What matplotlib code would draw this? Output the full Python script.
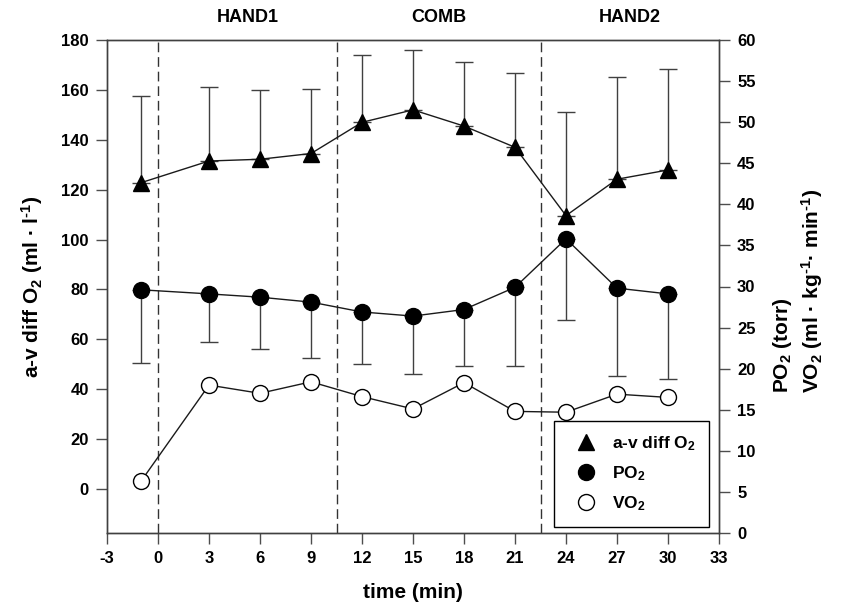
import matplotlib
matplotlib.use("Agg")
import matplotlib.pyplot as plt
from matplotlib.lines import Line2D

plt.rcParams['font.family'] = ['Liberation Sans', 'DejaVu Sans']
plt.rcParams['font.weight'] = 'bold'
plt.rcParams['mathtext.fontset'] = 'custom'
plt.rcParams['mathtext.rm'] = 'Liberation Sans:bold'
plt.rcParams['mathtext.default'] = 'rm'

time = [-1, 3, 6, 9, 12, 15, 18, 21, 24, 27, 30]
avdiff = [122.8, 131.5, 132.2, 134.5, 147.0, 152.0, 145.5, 137.0, 109.6, 124.2, 127.9]
avdiff_err = [34.8, 29.5, 27.6, 25.7, 27.0, 24.1, 25.8, 29.7, 41.7, 40.8, 40.5]
po2 = [29.6, 29.1, 28.7, 28.1, 26.9, 26.4, 27.2, 29.9, 35.8, 29.8, 29.1]
po2_err = [8.9, 5.9, 6.3, 6.8, 6.3, 7.1, 6.9, 9.6, 9.9, 10.7, 10.3]
vo2 = [6.3, 18.0, 17.0, 18.4, 16.6, 15.1, 18.3, 14.8, 14.7, 16.9, 16.5]

phase_bounds = [0, 10.5, 22.5]
phase_labels = ["HAND1", "COMB", "HAND2"]
phase_centers = [5.25, 16.5, 27.75]

xticks = list(range(-3, 34, 3))
left_ticks = list(range(0, 181, 20))
right_ticks = list(range(0, 61, 5))

fig = plt.figure(figsize=(8.41, 6.10), dpi=100)
ax = fig.add_axes([107/841, 1-533/610, (719-107)/841, (533-40)/610])
ax2 = ax.twinx()

ax.set_xlim(-3, 33)
ax.set_ylim(-17.6, 180)
ax2.set_ylim(0, 60)

for b in phase_bounds:
    ax.axvline(b, color='0.2', lw=1.0, ls=(0, (7, 3.5)), zorder=1)

ax.errorbar(time, avdiff, yerr=[[0]*len(avdiff), avdiff_err], fmt='none',
            ecolor='0.25', elinewidth=1.0, capsize=6.5, capthick=1.0, zorder=2)
ax.plot(time, avdiff, color='0.1', lw=1.0, marker='^', ms=11.5,
        mfc='black', mec='black', zorder=4)

ax2.errorbar(time, po2, yerr=[po2_err, [0]*len(po2)], fmt='none',
             ecolor='0.25', elinewidth=1.0, capsize=6.5, capthick=1.0, zorder=2)
ax2.plot(time, po2, color='0.1', lw=1.0, marker='o', ms=11.5,
         mfc='black', mec='black', zorder=4)
ax2.plot(time, vo2, color='0.1', lw=1.0, marker='o', ms=11.5,
         mfc='white', mec='black', mew=1.0, zorder=4)

ax.set_xticks(xticks)
ax.set_xticklabels([str(t) for t in xticks])
ax.set_yticks(left_ticks)
ax2.set_yticks(right_ticks)

for a in (ax, ax2):
    a.tick_params(direction='out', length=8, width=1, color='0.3', labelsize=12, pad=5)
    for s in a.spines.values():
        s.set_color('0.25')
        s.set_linewidth(1.0)

ax.set_xlabel("time (min)", fontsize=15, fontweight='bold', labelpad=12)
ax.set_ylabel(r"a-v diff O$_2$ (ml · l$^{\text{-1}}$)", fontsize=15, fontweight='bold', labelpad=12)

fig.text(782/841, 1-393/610, r"PO$_2$ (torr)", rotation=90, ha='center', va='bottom',
         fontsize=15, fontweight='bold')
fig.text(812/841, 1-393/610, r"VO$_2$ (ml · kg$^{\text{-1}}$· min$^{\text{-1}}$)", rotation=90,
         ha='center', va='bottom', fontsize=15, fontweight='bold')

for c, lab in zip(phase_centers, phase_labels):
    ax.text(c, 1.045, lab, transform=ax.get_xaxis_transform(), ha='center', va='center',
            fontsize=13, fontweight='bold')

handles = [
    Line2D([], [], ls='none', marker='^', ms=11.5, mfc='black', mec='black'),
    Line2D([], [], ls='none', marker='o', ms=11.5, mfc='black', mec='black'),
    Line2D([], [], ls='none', marker='o', ms=11.5, mfc='white', mec='black'),
]
labels = [r"a-v diff O$_2$", r"PO$_2$", r"VO$_2$"]
leg = ax2.legend(handles, labels, loc='lower right', bbox_to_anchor=(0.984, 0.012),
                 borderaxespad=0, fancybox=False, framealpha=1, edgecolor='black',
                 fontsize=12.5, labelspacing=0.65, handletextpad=0.5, borderpad=0.8,
                 handlelength=2.0)
leg.get_frame().set_linewidth(1.0)
leg.set_zorder(10)

fig.savefig("out.png", dpi=100)
